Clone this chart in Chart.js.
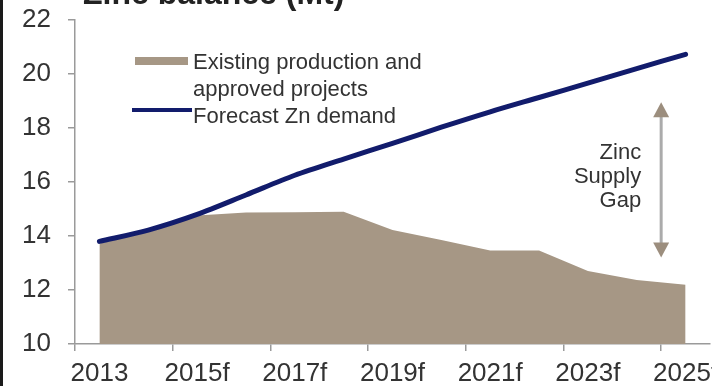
<!DOCTYPE html>
<html><head><meta charset="utf-8">
<script src="https://cdn.jsdelivr.net/npm/chart.js@4.4.1/dist/chart.umd.min.js"></script>
<style>html,body{margin:0;padding:0;background:#fff;overflow:hidden}#wrap{width:712px;height:386px;position:relative}</style>
</head><body><div id="wrap"><canvas id="c" width="712" height="386"></canvas></div>
<script>
// ---- data ----
const categories = ['2013','2014f','2015f','2016f','2017f','2018f','2019f','2020f','2021f','2022f','2023f','2024f','2025f'];
const supplyValues = [13.72, 14.15, 14.76, 14.87, 14.88, 14.9, 14.22, 13.85, 13.46, 13.46, 12.7, 12.37, 12.19];
const demandValues = [13.8, 14.22, 14.8, 15.52, 16.25, 16.85, 17.43, 18.03, 18.6, 19.13, 19.66, 20.2, 20.73];
const yTickValues = [10, 12, 14, 16, 18, 20, 22];
const titleText = 'Zinc balance (Mt)';
const supplyLabel = ['Existing production and', 'approved projects'];
const demandLabel = 'Forecast Zn demand';
const gapLabel = ['Zinc', 'Supply', 'Gap'];
// annotation anchor (in data coordinates: category index, value)
const gapArrow = { x: 11.5, top: 18.95, bottom: 13.2 };

// ---- styles ----
const AREA = '#a69785';
const LINE = '#121c6c';
const TEXT = '#333333';
const AXIS = '#9a9a9a';
const FONT = '"Liberation Sans", Arial, sans-serif';

const background = {
  id: 'background',
  beforeDraw(chart) {
    const c = chart.ctx;
    c.save();
    c.fillStyle = '#ffffff';
    c.fillRect(0, 0, chart.width, chart.height);
    c.fillStyle = '#1a1a1a';
    c.fillRect(0, 0, 3, chart.height);
    c.restore();
  }
};

const overlay = {
  id: 'overlay',
  afterDraw(chart) {
    const c = chart.ctx;
    const xs = chart.scales.x, ys = chart.scales.y;
    c.save();
    // title (mostly cropped at top)
    c.fillStyle = '#222';
    c.font = 'bold 32px ' + FONT;
    c.textAlign = 'left';
    c.textBaseline = 'alphabetic';
    c.fillText(titleText, 83, 4);

    // legend
    c.font = '22px ' + FONT;
    c.fillStyle = AREA;
    c.fillRect(135, 57, 53, 8);
    c.fillStyle = TEXT;
    c.fillText(supplyLabel[0], 193, 69);
    c.fillText(supplyLabel[1], 193, 96);
    c.strokeStyle = LINE;
    c.lineWidth = 4;
    c.beginPath();
    c.moveTo(132, 110);
    c.lineTo(192, 110);
    c.stroke();
    c.fillText(demandLabel, 193, 123);

    // gap arrow
    const ax = xs.getPixelForValue(gapArrow.x);
    const yt = ys.getPixelForValue(gapArrow.top);
    const yb = ys.getPixelForValue(gapArrow.bottom);
    c.strokeStyle = '#ababab';
    c.lineWidth = 3;
    c.beginPath();
    c.moveTo(ax, yt + 10);
    c.lineTo(ax, yb - 10);
    c.stroke();
    c.fillStyle = '#9c8e7e';
    c.beginPath();
    c.moveTo(ax, yt); c.lineTo(ax - 8, yt + 15); c.lineTo(ax + 8, yt + 15); c.closePath(); c.fill();
    c.beginPath();
    c.moveTo(ax, yb); c.lineTo(ax - 8, yb - 15); c.lineTo(ax + 8, yb - 15); c.closePath(); c.fill();

    c.fillStyle = TEXT;
    c.font = '22px ' + FONT;
    c.textAlign = 'right';
    const mid = (yt + yb) / 2;
    c.fillText(gapLabel[0], ax - 20, mid - 21);
    c.fillText(gapLabel[1], ax - 20, mid + 3);
    c.fillText(gapLabel[2], ax - 20, mid + 27);
    c.restore();
  }
};

new Chart(document.getElementById('c'), {
  type: 'line',
  data: {
    labels: categories,
    datasets: [
      {
        label: demandLabel,
        data: demandValues,
        borderColor: LINE,
        borderWidth: 5,
        pointRadius: 0,
        tension: 0.3,
        fill: false,
        order: 0,
        borderCapStyle: 'round'
      },
      {
        label: supplyLabel.join(' '),
        data: supplyValues,
        borderColor: AREA,
        borderWidth: 0,
        backgroundColor: AREA,
        pointRadius: 0,
        tension: 0,
        fill: 'start',
        order: 1
      }
    ]
  },
  options: {
    responsive: false,
    animation: false,
    devicePixelRatio: 1,
    layout: { padding: { top: 20, right: 2, left: 0, bottom: 0 } },
    plugins: { legend: { display: false }, title: { display: false }, tooltip: { enabled: false } },
    scales: {
      x: {
        type: 'category',
        offset: true,
        grid: {
          offset: true,
          drawOnChartArea: false,
          tickLength: 7,
          lineWidth: 1.5,
          color: (ctx) => (ctx.index !== undefined && ctx.index % 2 === 0) ? AXIS : 'rgba(0,0,0,0)'
        },
        border: { color: AXIS, width: 1.5 },
        ticks: {
          autoSkip: false,
          maxRotation: 0,
          minRotation: 0,
          padding: 7,
          color: TEXT,
          font: { family: FONT, size: 26 },
          callback: (v, i) => (i % 2 === 0 ? categories[i] : '')
        },
        afterFit: (s) => { s.height = 42; s.paddingLeft = 0; s.paddingRight = 0; }
      },
      y: {
        min: 10,
        max: 22,
        afterBuildTicks: (s) => { s.ticks = yTickValues.map(v => ({ value: v })); },
        grid: { drawOnChartArea: false, tickLength: 7, color: AXIS, lineWidth: 1.5 },
        border: { color: AXIS, width: 1.5 },
        ticks: { padding: 17, color: TEXT, font: { family: FONT, size: 26 } },
        afterFit: (s) => { s.width = 75; s.paddingTop = 0; s.paddingBottom = 0; }
      }
    }
  },
  plugins: [background, overlay]
});
</script>
</body></html>
